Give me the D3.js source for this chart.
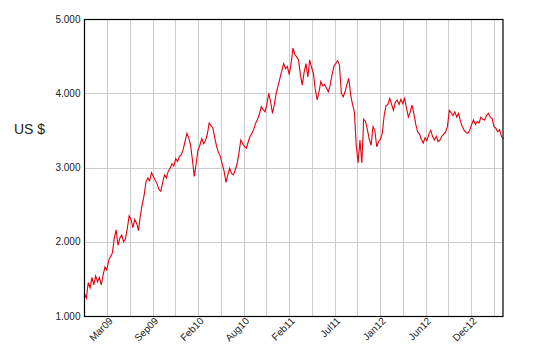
<!DOCTYPE html>
<html>
<head>
<meta charset="utf-8">
<script src="https://cdn.jsdelivr.net/npm/d3@7"></script>
<style>
  body { margin: 0; background: #fff; }
  text { font-family: "Liberation Sans", Arial, sans-serif; fill: #222; }
  .grid line { stroke: #cccccc; stroke-width: 1; }
  .price { fill: none; stroke: #e3000f; stroke-width: 1.1; }
</style>
</head>
<body>
<div id="chart"></div>
<script>
// Weekly closing prices, US $
const startDate = "2008-12-24";
const endDate = "2013-04-16";
const prices = [
  1.30, 1.24, 1.45, 1.38, 1.52, 1.42, 1.54, 1.46, 1.52, 1.42,
  1.55, 1.66, 1.62, 1.75, 1.80, 1.85, 2.05, 2.16, 1.95, 2.05,
  2.09, 2.00, 2.04, 2.18, 2.35, 2.30, 2.19, 2.30, 2.25, 2.15,
  2.35, 2.50, 2.62, 2.80, 2.86, 2.82, 2.93, 2.88, 2.83, 2.78,
  2.70, 2.68, 2.80, 2.90, 2.86, 2.95, 2.99, 3.05, 3.02, 3.12,
  3.08, 3.15, 3.17, 3.24, 3.35, 3.46, 3.40, 3.30, 3.10, 2.88,
  3.05, 3.24, 3.30, 3.39, 3.32, 3.36, 3.45, 3.60, 3.56, 3.53,
  3.40, 3.28, 3.20, 3.15, 3.05, 2.95, 2.80, 2.90, 2.99, 2.92,
  2.90, 2.97, 3.05, 3.20, 3.37, 3.32, 3.28, 3.26, 3.35, 3.42,
  3.46, 3.52, 3.60, 3.65, 3.72, 3.82, 3.78, 3.75, 3.85, 4.00,
  3.88, 3.73, 3.85, 4.00, 4.10, 4.20, 4.30, 4.40, 4.33, 4.36,
  4.25, 4.40, 4.61, 4.52, 4.49, 4.45, 4.25, 4.11, 4.28, 4.40,
  4.22, 4.45, 4.35, 4.27, 4.05, 3.91, 4.02, 4.16, 4.10, 4.12,
  4.07, 4.02, 4.11, 4.25, 4.36, 4.40, 4.44, 4.38, 4.00, 3.95,
  4.02, 4.12, 4.20, 3.98, 3.85, 3.75, 3.30, 3.06, 3.37, 3.06,
  3.65, 3.62, 3.51, 3.38, 3.30, 3.55, 3.50, 3.28, 3.35, 3.38,
  3.46, 3.70, 3.83, 3.85, 3.93, 3.85, 3.77, 3.88, 3.91, 3.85,
  3.92, 3.86, 3.93, 3.80, 3.68, 3.75, 3.84, 3.72, 3.58, 3.48,
  3.45, 3.38, 3.33, 3.40, 3.36, 3.45, 3.50, 3.42, 3.37, 3.42,
  3.35, 3.37, 3.42, 3.45, 3.48, 3.55, 3.77, 3.74, 3.70, 3.75,
  3.68, 3.73, 3.62, 3.55, 3.50, 3.47, 3.46, 3.50, 3.58, 3.64,
  3.58, 3.62, 3.60, 3.68, 3.65, 3.64, 3.70, 3.73, 3.68, 3.66,
  3.55, 3.53, 3.48, 3.51, 3.42, 3.39
];

// Vertical grid lines; every other one carries a label
const gridDates = [
  "2009-03-20", "2009-06-13", "2009-09-07", "2009-12-01", "2010-02-25",
  "2010-05-21", "2010-08-15", "2010-11-08", "2011-02-02", "2011-04-28",
  "2011-07-23", "2011-10-16", "2012-01-10", "2012-04-04", "2012-06-29",
  "2012-09-22", "2012-12-17", "2013-03-12"
];
const yTicks = [1, 2, 3, 4, 5];

const width = 535, height = 360;
const margin = { top: 19, right: 32, bottom: 44, left: 84.5 };

const parse = d3.utcParse("%Y-%m-%d");
const t0 = parse(startDate);
const data = prices.map((v, i) => ({ date: d3.utcDay.offset(t0, 7 * i), value: v }));

const x = d3.scaleUtc()
  .domain([t0, parse(endDate)])
  .range([margin.left, width - margin.right]);

const y = d3.scaleLinear()
  .domain([1, 5])
  .range([height - margin.bottom, margin.top]);

const svg = d3.select("#chart").append("svg")
  .attr("width", width)
  .attr("height", height);

// Grid
const grid = svg.append("g").attr("class", "grid");
grid.selectAll(".v")
  .data(gridDates.map(parse))
  .join("line")
  .attr("x1", d => Math.round(x(d)) + 0.5)
  .attr("x2", d => Math.round(x(d)) + 0.5)
  .attr("y1", y(5))
  .attr("y2", y(1));
grid.selectAll(".h")
  .data(yTicks)
  .join("line")
  .attr("x1", x.range()[0])
  .attr("x2", x.range()[1])
  .attr("y1", d => Math.round(y(d)) + 0.5)
  .attr("y2", d => Math.round(y(d)) + 0.5);

// Price line
const line = d3.line()
  .x(d => x(d.date))
  .y(d => y(d.value));

svg.append("path")
  .datum(data)
  .attr("class", "price")
  .attr("d", line);

// Frame
svg.append("rect")
  .attr("x", x.range()[0])
  .attr("y", Math.round(y(5)) + 0.5)
  .attr("width", x.range()[1] - x.range()[0])
  .attr("height", Math.round(y(1)) - Math.round(y(5)))
  .attr("fill", "none")
  .attr("stroke", "#000")
  .attr("stroke-width", 1.2);

// Y axis
const yAxis = svg.append("g")
  .attr("transform", `translate(${margin.left},0)`)
  .call(d3.axisLeft(y).tickValues(yTicks).tickFormat(d3.format(".3f")).tickSize(0).tickPadding(4));
yAxis.select(".domain").remove();
yAxis.selectAll("text")
  .style("font-size", "10px")
  .attr("fill", "#222");

// X axis labels
const labelDates = gridDates.filter((d, i) => i % 2 === 0).map(parse);
const xAxis = svg.append("g")
  .attr("transform", `translate(0,${height - margin.bottom})`)
  .call(d3.axisBottom(x).tickValues(labelDates).tickFormat(d3.utcFormat("%b%y")).tickSize(0));
xAxis.select(".domain").remove();
xAxis.selectAll("text")
  .style("font-size", "10px")
  .attr("fill", "#222")
  .attr("text-anchor", "end")
  .attr("dx", "0px")
  .attr("dy", "8px")
  .attr("y", 0)
  .attr("transform", "rotate(-45)");

// Y title
svg.append("text")
  .attr("x", 14)
  .attr("y", 134)
  .style("font-size", "14px")
  .text("US $");
</script>
</body>
</html>
